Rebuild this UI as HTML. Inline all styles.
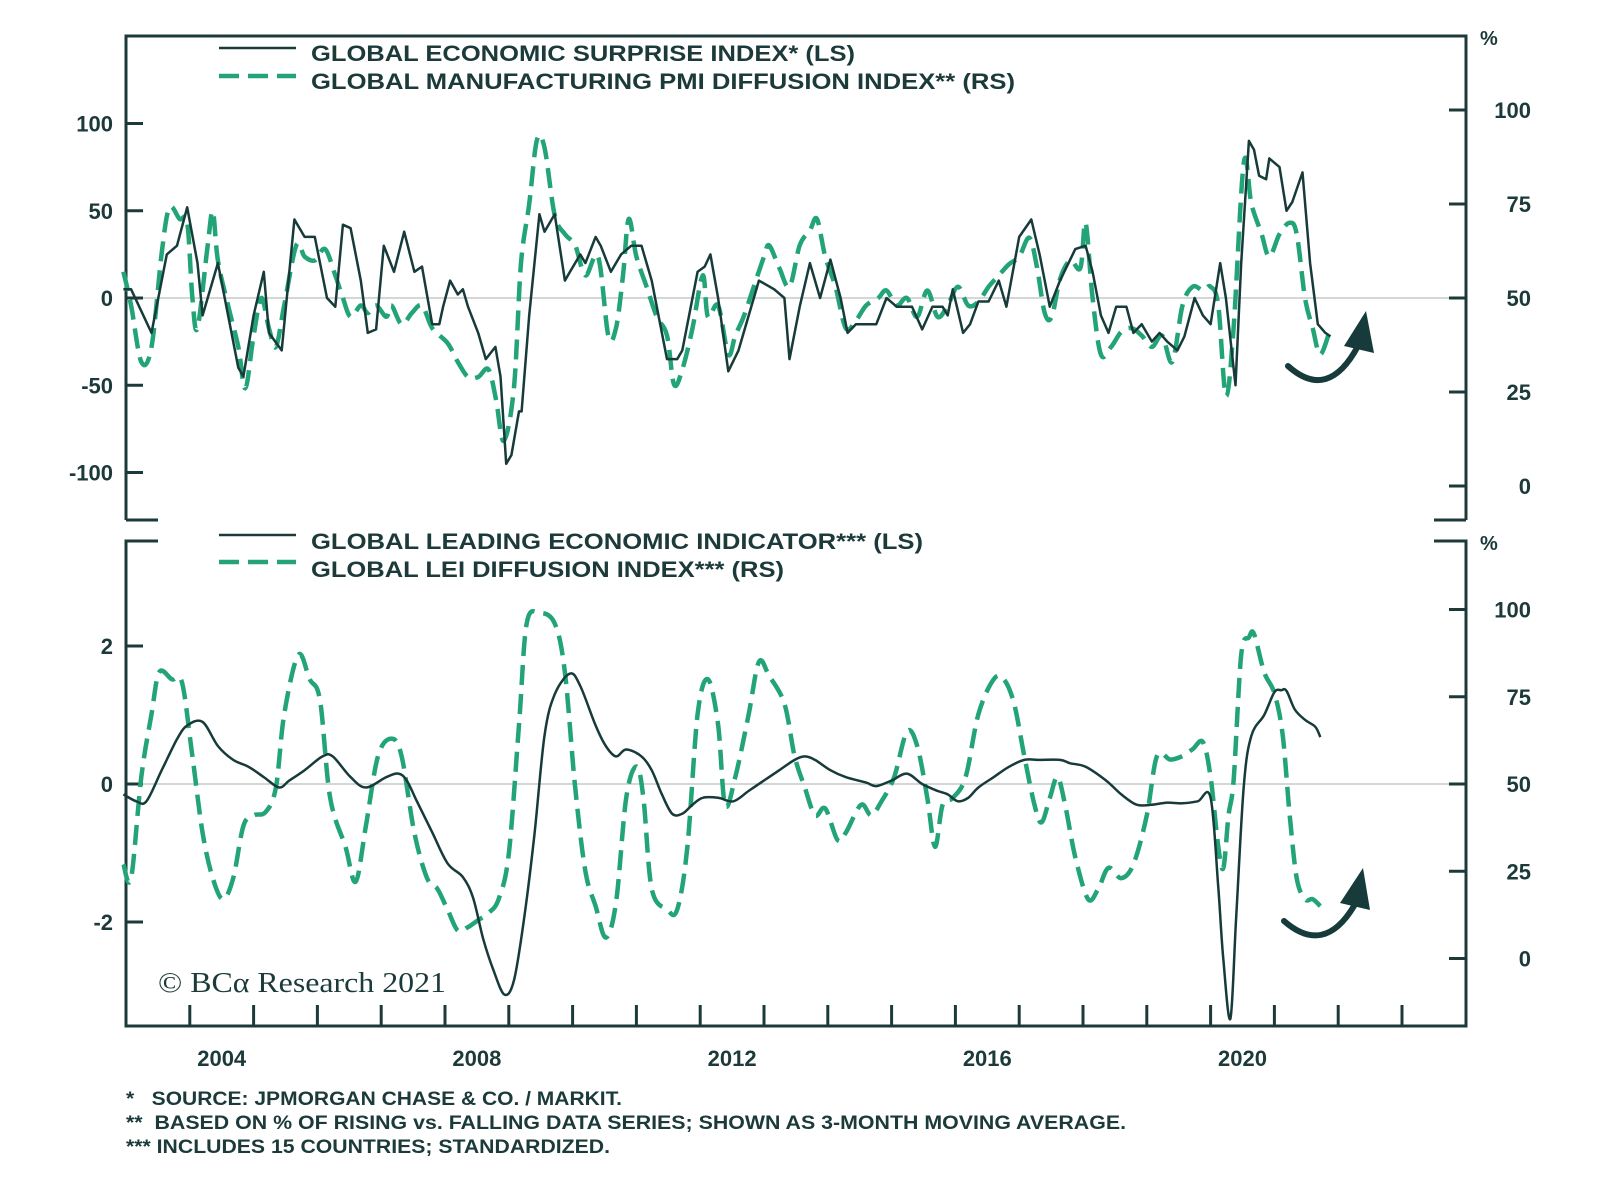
<!DOCTYPE html>
<html><head><meta charset="utf-8"><style>
html,body{margin:0;padding:0;background:#fff;}
svg{display:block;font-family:"Liberation Sans",Arial,sans-serif;}
.t{font-weight:bold;fill:#1c3a3a;}
.pre{white-space:pre;}
</style></head><body>
<svg id="chart" width="1600" height="1191" viewBox="0 0 1600 1191" xmlns="http://www.w3.org/2000/svg">
<g id="frames" stroke="#1c3a3a" stroke-width="3" fill="none">
<path d="M126,520 V36 H1466 V520"/>
<path d="M126,520 H158 M1434,520 H1466"/>
<path d="M158,541 H126 V1026 H1466 V541 H1434"/>
</g>
<g id="grid"></g>
<g id="ticks"></g>
<g id="labels"></g>
<g id="series"></g>
<g>
<line x1="219" y1="48" x2="296" y2="48" stroke="#1c3a3a" stroke-width="2.5"/>
<line x1="219" y1="76" x2="296" y2="76" stroke="#22a477" stroke-width="4.5" stroke-dasharray="20,9"/>
<text class="t" x="311" y="61" font-size="22" textLength="544" lengthAdjust="spacingAndGlyphs">GLOBAL ECONOMIC SURPRISE INDEX* (LS)</text>
<text class="t" x="311" y="89" font-size="22" textLength="704" lengthAdjust="spacingAndGlyphs">GLOBAL MANUFACTURING PMI DIFFUSION INDEX** (RS)</text>
</g>
<g>
<line x1="219" y1="535" x2="296" y2="535" stroke="#1c3a3a" stroke-width="2.5"/>
<line x1="219" y1="562" x2="296" y2="562" stroke="#22a477" stroke-width="4.5" stroke-dasharray="20,9"/>
<text class="t" x="311" y="549" font-size="22" textLength="612" lengthAdjust="spacingAndGlyphs">GLOBAL LEADING ECONOMIC INDICATOR*** (LS)</text>
<text class="t" x="311" y="577" font-size="22" textLength="473" lengthAdjust="spacingAndGlyphs">GLOBAL LEI DIFFUSION INDEX*** (RS)</text>
</g>
<text class="t" x="1480" y="45" font-size="20">%</text>
<text class="t" x="1480" y="550" font-size="20">%</text>
<text x="158" y="992" font-size="29" fill="#1c3a3a" textLength="288" lengthAdjust="spacingAndGlyphs" style="font-family:'Liberation Serif',serif">© BCα Research 2021</text>
<g>
<path d="M1288,366 Q1328,402 1358,346" fill="none" stroke="#173a3a" stroke-width="6" stroke-linecap="round"/>
<polygon points="1366,311 1344,346 1374,353" fill="#173a3a"/>
</g>
<g>
<path d="M1284,921 Q1324,956 1354,906" fill="none" stroke="#173a3a" stroke-width="6" stroke-linecap="round"/>
<polygon points="1363,868 1340,903 1370,910" fill="#173a3a"/>
</g>
<g>
<text class="t pre" x="126" y="1105" font-size="19" textLength="496" lengthAdjust="spacingAndGlyphs">*   SOURCE: JPMORGAN CHASE &amp; CO. / MARKIT.</text>
<text class="t pre" x="126" y="1129" font-size="19" textLength="1000" lengthAdjust="spacingAndGlyphs">**  BASED ON % OF RISING vs. FALLING DATA SERIES; SHOWN AS 3-MONTH MOVING AVERAGE.</text>
<text class="t pre" x="126" y="1153" font-size="19" textLength="484" lengthAdjust="spacingAndGlyphs">*** INCLUDES 15 COUNTRIES; STANDARDIZED.</text>
</g>
</svg>
<script>
const yearLabels = [2004, 2008, 2012, 2016, 2020];
const yearTicks = [2004,2005,2006,2007,2008,2009,2010,2011,2012,2013,2014,2015,2016,2017,2018,2019,2020,2021,2022,2023];
const topLeftTicks = [100, 50, 0, -50, -100];
const topRightTicks = [100, 75, 50, 25, 0];
const botLeftTicks = [2, 0, -2];
const botRightTicks = [100, 75, 50, 25, 0];

const esiDates = [2002.96,2003.08,2003.40,2003.64,2003.80,2003.96,2004.12,2004.20,2004.44,2004.52,2004.76,2004.84,2005.00,2005.16,2005.24,2005.44,2005.64,2005.80,2005.96,2006.15,2006.28,2006.40,2006.52,2006.68,2006.79,2006.92,2007.04,2007.20,2007.36,2007.52,2007.64,2007.80,2007.91,2007.97,2008.08,2008.20,2008.28,2008.36,2008.52,2008.64,2008.79,2008.87,2008.96,2009.04,2009.16,2009.20,2009.32,2009.48,2009.56,2009.72,2009.88,2009.96,2010.12,2010.20,2010.36,2010.44,2010.60,2010.76,2010.92,2011.08,2011.24,2011.48,2011.64,2011.72,2011.96,2012.07,2012.16,2012.28,2012.44,2012.60,2012.92,2013.16,2013.32,2013.40,2013.56,2013.72,2013.88,2014.04,2014.20,2014.31,2014.44,2014.60,2014.76,2014.92,2015.08,2015.24,2015.32,2015.48,2015.64,2015.80,2015.88,2015.96,2016.12,2016.23,2016.36,2016.52,2016.68,2016.80,2017.00,2017.19,2017.32,2017.48,2017.64,2017.88,2018.04,2018.15,2018.28,2018.40,2018.52,2018.68,2018.79,2018.92,2019.08,2019.20,2019.32,2019.48,2019.59,2019.75,2019.88,2020.00,2020.15,2020.24,2020.39,2020.48,2020.60,2020.68,2020.76,2020.87,2020.92,2021.08,2021.19,2021.28,2021.44,2021.56,2021.68,2021.80,2021.88];
const esiValues = [5,5,-20,25,30,52,20,-10,20,5,-40,-45,-10,15,-20,-30,45,35,35,0,-5,42,40,10,-20,-18,30,15,38,15,18,-15,-15,-5,10,2,5,-5,-20,-35,-28,-45,-95,-90,-65,-65,-10,48,38,48,10,15,25,20,35,30,15,25,30,30,10,-35,-35,-30,15,18,25,0,-42,-30,10,5,0,-35,-5,20,0,22,0,-20,-15,-15,-15,0,-5,-5,-5,-18,-5,-5,-10,5,-20,-15,-2,-2,10,-5,35,45,25,-5,10,28,30,15,-10,-20,-5,-5,-20,-15,-25,-20,-25,-30,-22,0,-10,-15,20,0,-50,20,90,85,70,68,80,75,50,55,72,20,-15,-20,-22];

const pmiDates = [2002.96,2003.08,2003.24,2003.40,2003.56,2003.68,2003.84,2003.96,2004.04,2004.12,2004.28,2004.36,2004.44,2004.60,2004.76,2004.87,2005.00,2005.12,2005.24,2005.35,2005.48,2005.67,2005.80,2005.96,2006.12,2006.28,2006.40,2006.52,2006.68,2006.79,2006.92,2007.08,2007.16,2007.32,2007.48,2007.64,2007.80,2008.04,2008.20,2008.36,2008.52,2008.68,2008.80,2008.92,2009.08,2009.19,2009.32,2009.44,2009.56,2009.72,2009.88,2010.04,2010.20,2010.40,2010.56,2010.68,2010.79,2010.88,2011.00,2011.16,2011.32,2011.48,2011.59,2011.72,2011.88,2012.04,2012.12,2012.28,2012.44,2012.55,2012.68,2012.84,2013.00,2013.08,2013.24,2013.40,2013.56,2013.72,2013.83,2013.96,2014.12,2014.28,2014.44,2014.60,2014.79,2014.92,2015.08,2015.24,2015.40,2015.56,2015.72,2015.88,2016.04,2016.20,2016.36,2016.52,2016.68,2016.84,2017.00,2017.16,2017.28,2017.40,2017.51,2017.64,2017.80,2017.96,2018.04,2018.15,2018.28,2018.44,2018.60,2018.76,2018.92,2019.08,2019.24,2019.40,2019.56,2019.72,2019.88,2020.00,2020.12,2020.24,2020.36,2020.52,2020.64,2020.80,2020.92,2021.08,2021.24,2021.35,2021.48,2021.60,2021.72,2021.88];
const pmiValues = [57,48,33,37,62,74,71,70,50,42,64,73,60,48,37,26,40,50,42,37,48,64,61,60,63,56,50,45,48,46,48,45,48,43,46,48,42,38,33,29,29,31,23,12,26,59,75,92,90,72,67,64,56,61,40,42,56,71,61,53,45,40,27,31,42,56,45,48,35,40,45,53,61,64,58,53,64,68,71,61,53,42,44,48,50,52,48,50,45,52,45,48,53,48,49,53,56,59,61,66,58,46,45,55,60,58,70,50,35,37,41,42,40,37,40,33,48,53,52,53,48,24,42,86,75,67,61,67,70,67,50,42,35,42];

const leiDates = [2002.96,2003.16,2003.32,2003.56,2003.80,2003.96,2004.20,2004.44,2004.68,2004.92,2005.16,2005.40,2005.56,2005.80,2006.08,2006.24,2006.52,2006.76,2007.08,2007.27,2007.40,2007.56,2007.80,2008.04,2008.28,2008.44,2008.60,2008.76,2008.93,2009.08,2009.24,2009.40,2009.56,2009.72,2009.96,2010.12,2010.36,2010.52,2010.68,2010.84,2011.08,2011.24,2011.40,2011.56,2011.72,2011.88,2012.04,2012.28,2012.52,2012.76,2013.00,2013.24,2013.48,2013.64,2013.80,2014.04,2014.28,2014.60,2014.76,2015.00,2015.24,2015.48,2015.72,2015.88,2016.04,2016.20,2016.36,2016.60,2016.84,2017.08,2017.32,2017.64,2017.80,2018.04,2018.36,2018.60,2018.84,2019.08,2019.32,2019.56,2019.80,2020.00,2020.12,2020.20,2020.31,2020.40,2020.52,2020.64,2020.84,2021.00,2021.11,2021.19,2021.32,2021.48,2021.64,2021.72];
const leiValues = [-0.15,-0.25,-0.25,0.2,0.65,0.85,0.9,0.55,0.35,0.25,0.1,-0.05,0.05,0.2,0.4,0.4,0.1,-0.05,0.1,0.15,0.05,-0.25,-0.7,-1.15,-1.35,-1.65,-2.25,-2.7,-3.05,-2.85,-1.95,-0.75,0.7,1.3,1.6,1.42,0.85,0.55,0.4,0.5,0.4,0.2,-0.15,-0.43,-0.43,-0.3,-0.2,-0.2,-0.25,-0.1,0.05,0.2,0.35,0.4,0.35,0.2,0.1,0.02,-0.03,0.05,0.15,0,-0.1,-0.15,-0.25,-0.2,-0.05,0.1,0.25,0.35,0.35,0.35,0.3,0.25,0.05,-0.15,-0.3,-0.3,-0.27,-0.28,-0.25,-0.2,-1.5,-2.55,-3.4,-1.95,-0.03,0.7,1.0,1.33,1.36,1.35,1.08,0.93,0.83,0.68];

const diffDates = [2002.96,2003.08,2003.24,2003.40,2003.52,2003.72,2003.88,2004.04,2004.20,2004.36,2004.52,2004.68,2004.84,2005.00,2005.19,2005.35,2005.48,2005.70,2005.88,2006.04,2006.20,2006.44,2006.60,2006.76,2006.95,2007.16,2007.32,2007.52,2007.72,2007.88,2008.04,2008.20,2008.36,2008.52,2008.68,2008.84,2009.00,2009.16,2009.28,2009.48,2009.72,2009.88,2010.04,2010.20,2010.36,2010.52,2010.68,2010.84,2011.00,2011.11,2011.24,2011.48,2011.64,2011.80,2011.96,2012.12,2012.28,2012.39,2012.55,2012.76,2012.92,2013.08,2013.32,2013.48,2013.64,2013.80,2013.96,2014.15,2014.28,2014.52,2014.68,2014.84,2015.04,2015.24,2015.40,2015.56,2015.68,2015.80,2015.96,2016.16,2016.36,2016.60,2016.76,2016.92,2017.08,2017.24,2017.35,2017.48,2017.60,2017.72,2017.88,2018.08,2018.24,2018.40,2018.60,2018.79,2019.00,2019.16,2019.37,2019.56,2019.72,2019.88,2020.00,2020.12,2020.20,2020.28,2020.36,2020.48,2020.60,2020.68,2020.84,2021.00,2021.13,2021.24,2021.35,2021.48,2021.60,2021.72];
const diffValues = [27,23,52,70,82,80,79,58,36,23,17,23,38,41,42,49,70,87,80,74,46,32,22,38,58,63,58,36,23,20,14,8,9,11,13,17,30,67,96,99,96,82,49,25,15,6,16,46,55,46,20,14,14,32,70,80,67,44,52,70,85,81,73,58,49,41,43,34,36,44,41,45,52,65,61,46,32,44,46,52,70,80,80,73,58,44,39,46,52,44,29,17,20,26,23,27,41,58,57,58,60,62,52,32,26,41,51,87,92,93,82,76,64,41,23,17,17,15];

const NS = 'http://www.w3.org/2000/svg';
const X0 = 126, XPY = 63.8, Y0YEAR = 2003;
function xs(yr){ return X0 + (yr - Y0YEAR) * XPY; }
function yTopL(v){ return 298 - v * 1.745; }
function yTopR(p){ return 298 - (p - 50) * 3.76; }
function yBotL(v){ return 784 - v * 69; }
function yBotR(p){ return 784 - (p - 50) * 3.49; }

function mk(tag, attrs, parent){
  const e = document.createElementNS(NS, tag);
  for (const k in attrs) e.setAttribute(k, attrs[k]);
  parent.appendChild(e);
  return e;
}
const grid = document.getElementById('grid');
const ticks = document.getElementById('ticks');
const labels = document.getElementById('labels');
const series = document.getElementById('series');

[yTopL(0), yBotL(0)].forEach(function(y){
  const l = mk('line', {x1:128, x2:1464, y1:y, y2:y, stroke:'#b9c0bf', 'stroke-width':1.2}, grid);
  
  
});

function leftAxis(vals, fn, nm){
  vals.forEach(function(v){
    const y = fn(v);
    const t = mk('line', {x1:126, x2:143, y1:y, y2:y, stroke:'#1c3a3a', 'stroke-width':3}, ticks);
    
    
    const tx = mk('text', {x:113, y:y+8, 'font-size':22, 'text-anchor':'end', class:'t'}, labels);
    tx.textContent = String(v);
    
    
  });
}
function rightAxis(vals, fn, nm){
  vals.forEach(function(v){
    const y = fn(v);
    const t = mk('line', {x1:1449, x2:1466, y1:y, y2:y, stroke:'#1c3a3a', 'stroke-width':3}, ticks);
    
    
    const tx = mk('text', {x:1531, y:y+8, 'font-size':22, 'text-anchor':'end', class:'t'}, labels);
    tx.textContent = String(v);
    
    
  });
}
leftAxis(topLeftTicks, yTopL, 'top-left-axis');
rightAxis(topRightTicks, yTopR, 'top-right-axis');
leftAxis(botLeftTicks, yBotL, 'bottom-left-axis');
rightAxis(botRightTicks, yBotR, 'bottom-right-axis');

yearTicks.forEach(function(yr){
  const x = xs(yr);
  const t = mk('line', {x1:x, x2:x, y1:1026, y2:1005, stroke:'#1c3a3a', 'stroke-width':3}, ticks);
  
  
});
yearLabels.forEach(function(yr){
  const tx = mk('text', {x:xs(yr + 0.5), y:1066, 'font-size':22, 'text-anchor':'middle', class:'t'}, labels);
  tx.textContent = String(yr);
  
  
});

function linePath(dates, vals, fy){
  const n = Math.min(dates.length, vals.length);
  let d = '';
  for (let i = 0; i < n; i++) d += (i ? 'L' : 'M') + xs(dates[i]).toFixed(1) + ',' + fy(vals[i]).toFixed(1);
  return d;
}
function smoothPath(dates, vals, fy){
  const n = Math.min(dates.length, vals.length);
  const P = [];
  for (let i = 0; i < n; i++) P.push([xs(dates[i]), fy(vals[i])]);
  let d = 'M' + P[0][0].toFixed(1) + ',' + P[0][1].toFixed(1);
  for (let i = 0; i < n - 1; i++){
    const p0 = P[Math.max(0, i-1)], p1 = P[i], p2 = P[i+1], p3 = P[Math.min(n-1, i+2)];
    const c1 = [p1[0] + (p2[0]-p0[0])/6, p1[1] + (p2[1]-p0[1])/6];
    const c2 = [p2[0] - (p3[0]-p1[0])/6, p2[1] - (p3[1]-p1[1])/6];
    d += 'C' + c1[0].toFixed(1) + ',' + c1[1].toFixed(1) + ' ' + c2[0].toFixed(1) + ',' + c2[1].toFixed(1) + ' ' + p2[0].toFixed(1) + ',' + p2[1].toFixed(1);
  }
  return d;
}

const pmi = mk('path', {d: smoothPath(pmiDates, pmiValues, yTopR), fill:'none', stroke:'#22a477', 'stroke-width':4.5, 'stroke-dasharray':'20,9'}, series);


const esi = mk('path', {d: linePath(esiDates, esiValues, yTopL), fill:'none', stroke:'#173a3a', 'stroke-width':2.5, 'stroke-linejoin':'round'}, series);


const diff = mk('path', {d: smoothPath(diffDates, diffValues, yBotR), fill:'none', stroke:'#22a477', 'stroke-width':4.5, 'stroke-dasharray':'20,9'}, series);


const lei = mk('path', {d: smoothPath(leiDates, leiValues, yBotL), fill:'none', stroke:'#173a3a', 'stroke-width':2.5}, series);


</script>
</body></html>
